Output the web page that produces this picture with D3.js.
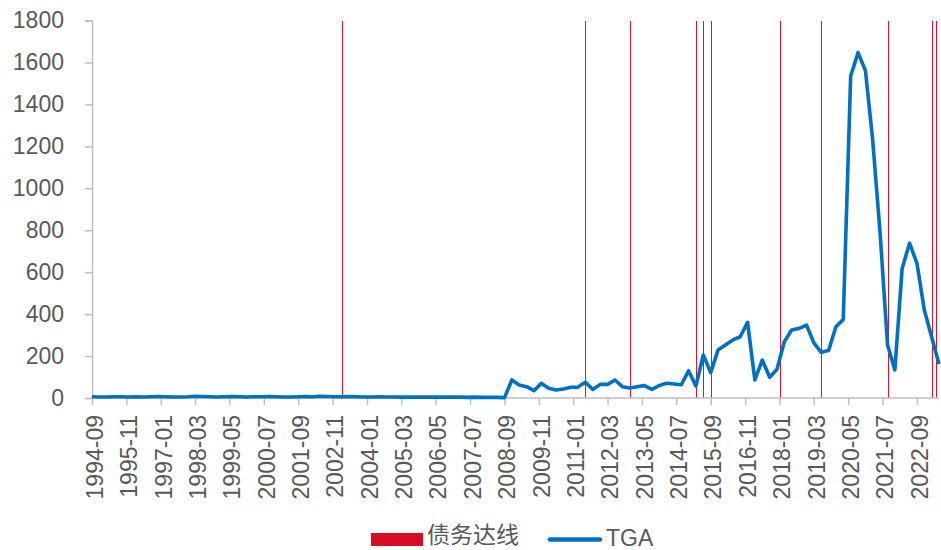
<!DOCTYPE html>
<html>
<head>
<meta charset="utf-8">
<script src="https://cdn.jsdelivr.net/npm/d3@7"></script>
<style>
  html, body { margin: 0; padding: 0; background: #fff; }
  svg { display: block; }
  text { font-family: "Liberation Sans", Arial, sans-serif; fill: #595959; }
  .cjk { font-family: "Noto Sans CJK SC", "Liberation Sans", sans-serif; }
</style>
</head>
<body>
<svg id="chart" width="941" height="550"></svg>
<script>
// Axis tick labels (every 14 months)
const tickLabels = [
  "1994-09","1995-11","1997-01","1998-03","1999-05","2000-07","2001-09",
  "2002-11","2004-01","2005-03","2006-05","2007-07","2008-09","2009-11",
  "2011-01","2012-03","2013-05","2014-07","2015-09","2016-11","2018-01",
  "2019-03","2020-05","2021-07","2022-09"
];
const yTicks = [0, 200, 400, 600, 800, 1000, 1200, 1400, 1600, 1800];

// Debt-ceiling events (month of each red marker)
const debtCeilingDates = [
  "2003-03","2011-06","2012-12","2015-03","2015-06","2015-09",
  "2018-01","2019-06","2021-09","2023-03","2023-05"
];

// TGA balance, quarterly from 1994-09 through 2023-06 (billion USD)
const tgaStart = "1994-09";
const tgaEnd = "2023-06";
const tgaValues = [
  // 1994-09 .. 2008-06
  6, 5, 5, 6, 6, 5, 6, 5, 6, 7, 6, 5, 5, 6, 8, 7,
  6, 5, 6, 7, 6, 5, 6, 6, 7, 6, 5, 5, 6, 7, 6, 8,
  7, 6, 6, 7, 6, 5, 5, 6, 5, 5, 4, 5, 4, 4, 4, 5,
  4, 4, 4, 3, 4, 3, 3, 3,
  // 2008-09 .. 2023-06
  2, 86, 62, 54, 35, 70, 46, 38, 43, 51, 52, 75, 41, 65, 65, 86,
  54, 48, 54, 59, 41, 59, 70, 67, 63, 130, 57, 205, 121, 229, 253, 277,
  292, 361, 86, 181, 99, 137, 268, 324, 332, 348, 264, 218, 226, 340, 375, 1535,
  1647, 1561, 1230, 785, 253, 134, 618, 738, 642, 420, 292, 162
];

const legendItems = ["债务达线", "TGA"];

const parseMonth = d3.timeParse("%Y-%m");
const tgaDates = d3.timeMonth.range(parseMonth(tgaStart), d3.timeMonth.offset(parseMonth(tgaEnd), 1), 3);
const tgaData = tgaDates.map((d, i) => ({ date: d, value: tgaValues[i] }));

const svg = d3.select("#chart");
const plotLeft = 92, plotRight = 939, plotTop = 20.5, plotBottom = 398;

const x = d3.scaleTime()
  .domain([parseMonth(tgaStart), parseMonth(tgaEnd)])
  .range([plotLeft, plotRight]);
const y = d3.scaleLinear().domain([0, 1800]).range([plotBottom, plotTop]);

const axisColor = "#bfbfbf";
const red = "#e0102b";
const blue = "#0070c0";

// Y axis
const yAxis = svg.append("g")
  .attr("transform", `translate(${plotLeft},0)`)
  .call(d3.axisLeft(y).tickValues(yTicks).tickSize(7).tickPadding(21).tickFormat(d3.format("d")));
yAxis.select(".domain").attr("stroke", axisColor).attr("stroke-width", 1.5);
yAxis.selectAll(".tick line").attr("stroke", axisColor).attr("stroke-width", 1.5);
yAxis.selectAll(".tick text")
  .attr("font-size", 23).attr("fill", "#595959")
  .attr("font-family", "Liberation Sans, Arial, sans-serif");

// Debt-ceiling markers (snapped to pixel centres so each stays a crisp 1px red line)
svg.append("g").selectAll("line")
  .data(debtCeilingDates)
  .join("line")
  .attr("x1", d => Math.round(x(parseMonth(d))) + 0.5)
  .attr("x2", d => Math.round(x(parseMonth(d))) + 0.5)
  .attr("y1", y(1800))
  .attr("y2", y(0))
  .attr("stroke", red)
  .attr("stroke-width", 1)
  .attr("shape-rendering", "crispEdges");

// X axis
const xAxis = svg.append("g")
  .attr("transform", `translate(0,${plotBottom})`)
  .call(d3.axisBottom(x)
    .tickValues(tickLabels.map(parseMonth))
    .tickSize(7)
    .tickFormat(d3.timeFormat("%Y-%m")));
xAxis.select(".domain").attr("stroke", axisColor).attr("stroke-width", 1.5)
  .attr("d", `M${plotLeft},0H${plotRight}`);
xAxis.selectAll(".tick line").attr("stroke", axisColor).attr("stroke-width", 1.5);
xAxis.selectAll(".tick text")
  .attr("font-size", 23).attr("fill", "#595959")
  .attr("font-family", "Liberation Sans, Arial, sans-serif")
  .attr("text-anchor", "end")
  .attr("transform", "translate(2,17) rotate(-90)")
  .attr("x", 0).attr("y", 0).attr("dy", "0.36em");

// TGA line
svg.append("path")
  .datum(tgaData)
  .attr("fill", "none")
  .attr("stroke", blue)
  .attr("stroke-width", 3.6)
  .attr("stroke-linejoin", "round")
  .attr("d", d3.line().x(d => x(d.date)).y(d => y(d.value)));

// Legend
const lg = svg.append("g");
lg.append("rect").attr("x", 371).attr("y", 533).attr("width", 52).attr("height", 13).attr("fill", "#d60d24");
lg.append("text").attr("class", "cjk").attr("x", 427).attr("y", 543)
  .attr("font-size", 23).text(legendItems[0]);
lg.append("line").attr("x1", 550).attr("x2", 600).attr("y1", 539.5).attr("y2", 539.5)
  .attr("stroke", blue).attr("stroke-width", 4.5).attr("stroke-linecap", "round");
lg.append("text").attr("x", 606).attr("y", 546).attr("font-size", 23).text(legendItems[1]);
</script>
</body>
</html>
